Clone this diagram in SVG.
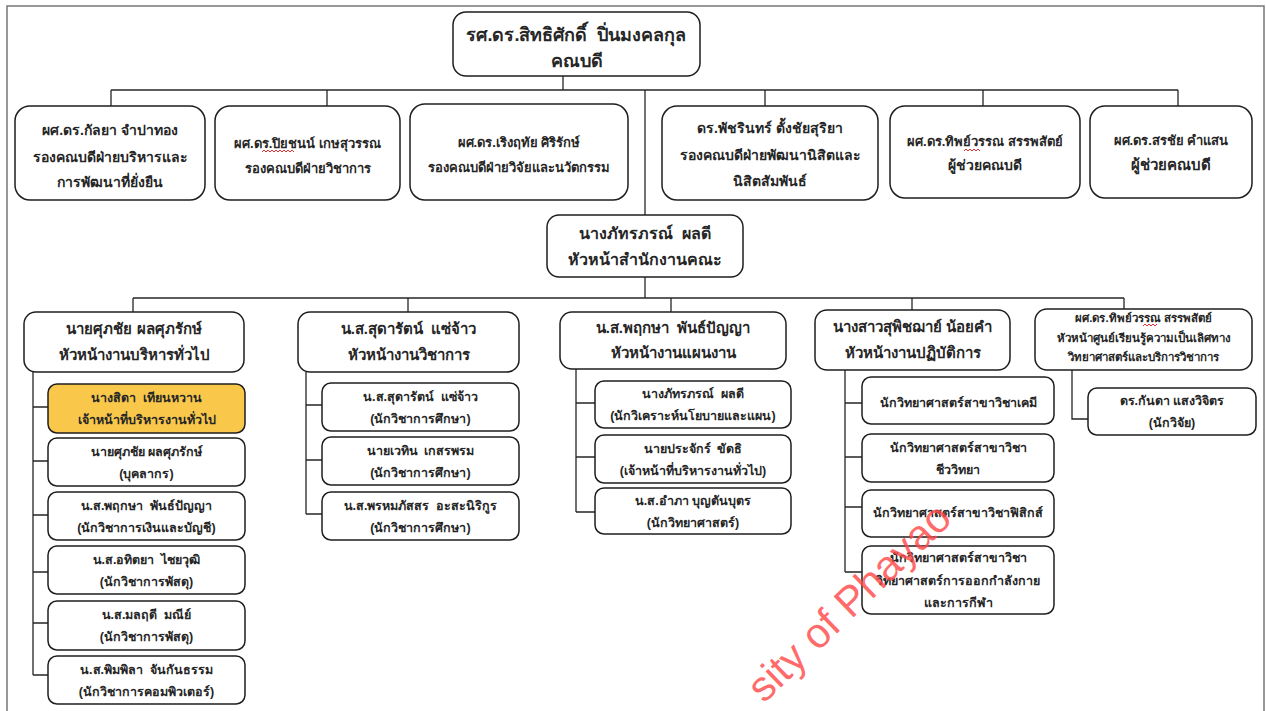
<svg xmlns="http://www.w3.org/2000/svg" width="1266" height="711" viewBox="0 0 1266 711">
  <style>
    .bg { fill: #ffffff; }
    .frame { fill: none; stroke: #777777; stroke-width: 1.5; }
    .box { fill: #ffffff; stroke: #1e1e1e; stroke-width: 1.5; }
    .hl { fill: #f9c84b; }
    .ln { fill: none; stroke: #262626; stroke-width: 1.3; }
    .sq { fill: none; stroke: #e03030; stroke-width: 1; }
    text { font-family: 'Liberation Sans', 'Noto Sans', sans-serif; font-weight: bold; fill: #262626; text-anchor: middle; white-space: pre; }
    .t18 { font-size: 18px; }
    .t16 { font-size: 16px; }
    .t15 { font-size: 15px; }
    .t14 { font-size: 14px; }
    .t13 { font-size: 13px; }
    .t12 { font-size: 12.5px; }
    .t11 { font-size: 11.5px; }
    .wm { font-family: 'Liberation Sans', sans-serif; font-weight: normal; font-size: 42px; fill: #ff4a4a; fill-opacity: 0.82; text-anchor: start; }
  </style>

  <rect class="bg" x="0" y="0" width="1266" height="711"/>
  <path class="frame" d="M7,711 V6 H1264 V711"/>

  <!-- connectors -->
  <g id="connectors">
    <path class="ln" d="M563,76 V90"/>
    <path class="ln" d="M111,90 H1178"/>
    <path class="ln" d="M111,90 V106 M327,90 V106 M765,90 V106 M983,90 V106 M1178,90 V106"/>
    <path class="ln" d="M645,90 V215"/>
    <path class="ln" d="M645,277 V298"/>
    <path class="ln" d="M133,298 H1124"/>
    <path class="ln" d="M133,298 V312 M408,298 V312 M671,298 V312 M912,298 V310 M1124,298 V309"/>
    <path class="ln" d="M33,372 V675 M33,407 H48 M33,461 H48 M33,515 H48 M33,572 H48 M33,623 H48 M33,675 H48"/>
    <path class="ln" d="M306,372 V514 M306,405 H322 M306,460 H322 M306,514 H322"/>
    <path class="ln" d="M576,369 V512 M576,403 H595 M576,457 H595 M576,512 H595"/>
    <path class="ln" d="M845,370 V572 M845,403 H862 M845,457 H862 M845,507 H862 M845,572 H862"/>
    <path class="ln" d="M1072,370 V419 H1088"/>
  </g>

  <!-- dean -->
  <g id="dean">
    <rect class="box" x="453" y="12" width="247" height="64" rx="13"/>
    <text class="t18" x="576.5" y="41">รศ.ดร.สิทธิศักดิ์  ปิ่นมงคลกุล</text>
    <text class="t18" x="576.5" y="67">คณบดี</text>
  </g>

  <!-- deputy and assistant deans -->
  <g id="deputy-admin">
    <rect class="box" x="15" y="106" width="190" height="94" rx="15"/>
    <text class="t14" x="110" y="135">ผศ.ดร.กัลยา จำปาทอง</text>
    <text class="t14" x="110" y="162">รองคณบดีฝ่ายบริหารและ</text>
    <text class="t14" x="110" y="187">การพัฒนาที่ยั่งยืน</text>
  </g>
  <g id="deputy-academic">
    <rect class="box" x="215" y="106" width="185" height="94" rx="15"/>
    <text class="t13" x="307.5" y="148">ผศ.ดร.ปิยชนน์ เกษสุวรรณ</text>
    <text class="t13" x="307.5" y="173">รองคณบดีฝ่ายวิชาการ</text>
    <path class="sq" d="M262,152 l2,-2 l2,2 l2,-2 l2,2 l2,-2 l2,2 l2,-2 l2,2 l2,-2 l2,2 l2,-2 l2,2 l2,-2 l2,2 l2,-2 l2,2"/>
  </g>
  <g id="deputy-research">
    <rect class="box" x="410" y="104" width="218" height="96" rx="15"/>
    <text class="t13" x="519" y="147">ผศ.ดร.เริงฤทัย ศิริรักษ์</text>
    <text class="t13" x="519" y="172">รองคณบดีฝ่ายวิจัยและนวัตกรรม</text>
  </g>
  <g id="deputy-student">
    <rect class="box" x="662" y="106" width="216" height="94" rx="15"/>
    <text class="t14" x="770" y="133">ดร.พัชรินทร์ ตั้งชัยสุริยา</text>
    <text class="t14" x="770" y="160">รองคณบดีฝ่ายพัฒนานิสิตและ</text>
    <text class="t14" x="770" y="186">นิสิตสัมพันธ์</text>
  </g>
  <g id="assistant-1">
    <rect class="box" x="890" y="106" width="190" height="92" rx="15"/>
    <text class="t13" x="985" y="146">ผศ.ดร.ทิพย์วรรณ สรรพสัตย์</text>
    <text class="t14" x="985" y="170">ผู้ช่วยคณบดี</text>
    <path class="sq" d="M964,151 l2,-2 l2,2 l2,-2 l2,2 l2,-2 l2,2 l2,-2 l2,2"/>
  </g>
  <g id="assistant-2">
    <rect class="box" x="1090" y="106" width="162" height="92" rx="15"/>
    <text class="t13" x="1171" y="145">ผศ.ดร.สรชัย คำแสน</text>
    <text class="t15" x="1171" y="170">ผู้ช่วยคณบดี</text>
  </g>

  <!-- faculty office head -->
  <g id="office-head">
    <rect class="box" x="547" y="215" width="196" height="62" rx="12"/>
    <text class="t16" x="645" y="239">นางภัทรภรณ์  ผลดี</text>
    <text class="t16" x="645" y="265">หัวหน้าสำนักงานคณะ</text>
  </g>

  <!-- section heads -->
  <g id="head-admin">
    <rect class="box" x="24" y="312" width="220" height="60" rx="12"/>
    <text class="t15" x="134" y="334">นายศุภชัย ผลศุภรักษ์</text>
    <text class="t15" x="134" y="360">หัวหน้างานบริหารทั่วไป</text>
  </g>
  <g id="head-academic">
    <rect class="box" x="298" y="312" width="221" height="60" rx="12"/>
    <text class="t15" x="408.5" y="334">น.ส.สุดารัตน์  แซ่จ้าว</text>
    <text class="t15" x="408.5" y="360">หัวหน้างานวิชาการ</text>
  </g>
  <g id="head-planning">
    <rect class="box" x="560" y="312" width="226" height="57" rx="12"/>
    <text class="t15" x="673" y="333">น.ส.พฤกษา  พันธ์ปัญญา</text>
    <text class="t15" x="673" y="358">หัวหน้างานแผนงาน</text>
  </g>
  <g id="head-lab">
    <rect class="box" x="815" y="310" width="195" height="60" rx="12"/>
    <text class="t15" x="912.5" y="332">นางสาวสุพิชฌาย์ น้อยคำ</text>
    <text class="t15" x="912.5" y="358">หัวหน้างานปฏิบัติการ</text>
  </g>
  <g id="head-center">
    <rect class="box" x="1035" y="309" width="217" height="61" rx="12"/>
    <text class="t11" x="1143.5" y="322">ผศ.ดร.ทิพย์วรรณ สรรพสัตย์</text>
    <text class="t11" x="1143.5" y="342">หัวหน้าศูนย์เรียนรู้ความเป็นเลิศทาง</text>
    <text class="t11" x="1143.5" y="361">วิทยาศาสตร์และบริการวิชาการ</text>
    <path class="sq" d="M1143,326 l2,-2 l2,2 l2,-2 l2,2 l2,-2 l2,2 l2,-2"/>
  </g>

  <!-- general administration staff -->
  <g id="admin-1">
    <rect class="box hl" x="48" y="384" width="197" height="49" rx="9"/>
    <text class="t12" x="146.5" y="402">นางสิดา  เทียนหวาน</text>
    <text class="t12" x="146.5" y="424">เจ้าหน้าที่บริหารงานทั่วไป</text>
  </g>
  <g id="admin-2">
    <rect class="box" x="48" y="438" width="197" height="48" rx="9"/>
    <text class="t12" x="146.5" y="456">นายศุภชัย ผลศุภรักษ์</text>
    <text class="t12" x="146.5" y="478">(บุคลากร)</text>
  </g>
  <g id="admin-3">
    <rect class="box" x="48" y="492" width="197" height="48" rx="9"/>
    <text class="t12" x="146.5" y="510">น.ส.พฤกษา  พันธ์ปัญญา</text>
    <text class="t12" x="146.5" y="532">(นักวิชาการเงินและบัญชี)</text>
  </g>
  <g id="admin-4">
    <rect class="box" x="48" y="546" width="197" height="48" rx="9"/>
    <text class="t12" x="146.5" y="564">น.ส.อทิตยา  ไชยวุฒิ</text>
    <text class="t12" x="146.5" y="586">(นักวิชาการพัสดุ)</text>
  </g>
  <g id="admin-5">
    <rect class="box" x="48" y="601" width="197" height="49" rx="9"/>
    <text class="t12" x="146.5" y="619">น.ส.มลฤดี  มณีย์</text>
    <text class="t12" x="146.5" y="641">(นักวิชาการพัสดุ)</text>
  </g>
  <g id="admin-6">
    <rect class="box" x="48" y="656" width="197" height="48" rx="9"/>
    <text class="t12" x="146.5" y="674">น.ส.พิมพิลา  จันกันธรรม</text>
    <text class="t12" x="146.5" y="696">(นักวิชาการคอมพิวเตอร์)</text>
  </g>

  <!-- academic staff -->
  <g id="academic-1">
    <rect class="box" x="322" y="383" width="197" height="48" rx="9"/>
    <text class="t12" x="420.5" y="401">น.ส.สุดารัตน์  แซ่จ้าว</text>
    <text class="t12" x="420.5" y="423">(นักวิชาการศึกษา)</text>
  </g>
  <g id="academic-2">
    <rect class="box" x="322" y="437" width="197" height="48" rx="9"/>
    <text class="t12" x="420.5" y="455">นายเวทิน  เกสรพรม</text>
    <text class="t12" x="420.5" y="477">(นักวิชาการศึกษา)</text>
  </g>
  <g id="academic-3">
    <rect class="box" x="322" y="492" width="197" height="48" rx="9"/>
    <text class="t12" x="420.5" y="510">น.ส.พรหมภัสสร  อะสะนิริกูร</text>
    <text class="t12" x="420.5" y="532">(นักวิชาการศึกษา)</text>
  </g>

  <!-- planning staff -->
  <g id="planning-1">
    <rect class="box" x="595" y="381" width="196" height="47" rx="9"/>
    <text class="t12" x="693" y="398">นางภัทรภรณ์  ผลดี</text>
    <text class="t12" x="693" y="420">(นักวิเคราะห์นโยบายและแผน)</text>
  </g>
  <g id="planning-2">
    <rect class="box" x="595" y="435" width="196" height="48" rx="9"/>
    <text class="t12" x="693" y="453">นายประจักร์  ขัดธิ</text>
    <text class="t12" x="693" y="475">(เจ้าหน้าที่บริหารงานทั่วไป)</text>
  </g>
  <g id="planning-3">
    <rect class="box" x="595" y="488" width="196" height="46" rx="9"/>
    <text class="t12" x="693" y="505">น.ส.อำภา บุญตันบุตร</text>
    <text class="t12" x="693" y="527">(นักวิทยาศาสตร์)</text>
  </g>

  <!-- laboratory staff -->
  <g id="lab-1">
    <rect class="box" x="862" y="377" width="192" height="47" rx="9"/>
    <text class="t12" x="958" y="407">นักวิทยาศาสตร์สาขาวิชาเคมี</text>
  </g>
  <g id="lab-2">
    <rect class="box" x="862" y="434" width="192" height="48" rx="9"/>
    <text class="t12" x="958" y="452">นักวิทยาศาสตร์สาขาวิชา</text>
    <text class="t12" x="958" y="474">ชีววิทยา</text>
  </g>
  <g id="lab-3">
    <rect class="box" x="862" y="490" width="192" height="47" rx="9"/>
    <text class="t12" x="958" y="517">นักวิทยาศาสตร์สาขาวิชาฟิสิกส์</text>
  </g>
  <g id="lab-4">
    <rect class="box" x="862" y="546" width="192" height="68" rx="9"/>
    <text class="t12" x="958" y="562">นักวิทยาศาสตร์สาขาวิชา</text>
    <text class="t12" x="958" y="585">วิทยาศาสตร์การออกกำลังกาย</text>
    <text class="t12" x="958" y="607">และการกีฬา</text>
  </g>

  <!-- research staff -->
  <g id="research-1">
    <rect class="box" x="1088" y="388" width="168" height="47" rx="9"/>
    <text class="t12" x="1172" y="405">ดร.กันดา แสงวิจิตร</text>
    <text class="t12" x="1172" y="427">(นักวิจัย)</text>
  </g>

  <!-- watermark -->
  <text class="wm" transform="translate(764,704) rotate(-44)">sity of Phayao</text>
</svg>
